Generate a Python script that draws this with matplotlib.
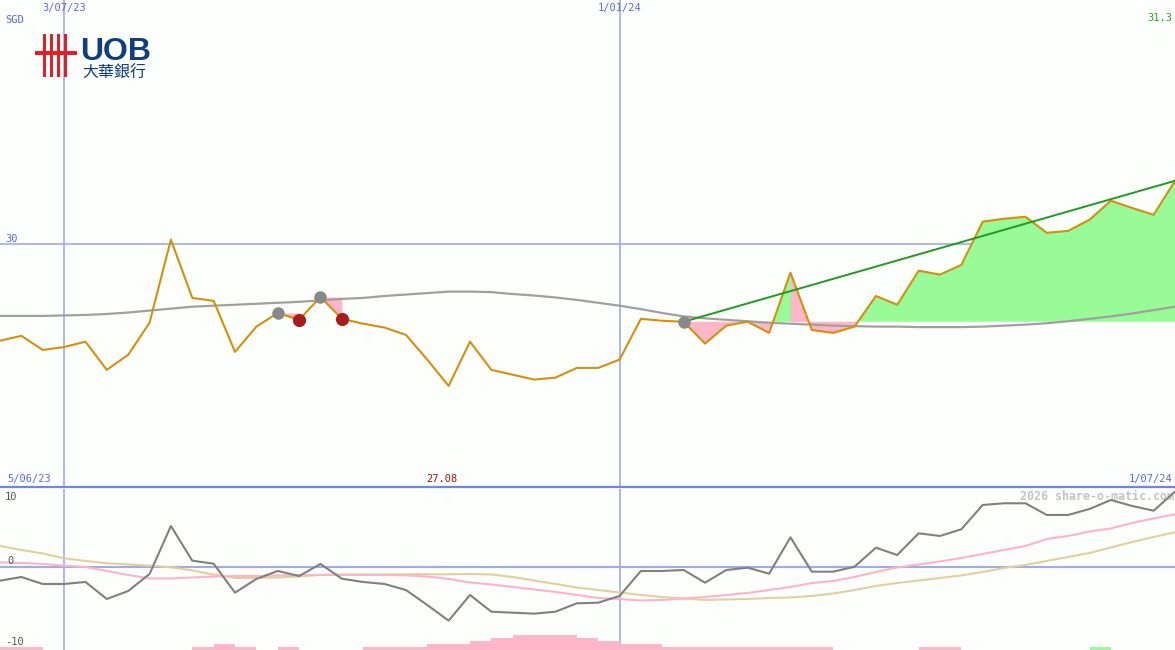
import numpy as np
import matplotlib
matplotlib.use("Agg")
import matplotlib.pyplot as plt
from matplotlib.lines import Line2D
from matplotlib.patches import Rectangle

# weekly closes 5/06/23 .. 1/07/24 (SGD)
price = [28.01, 28.11, 27.82, 27.88, 27.99, 27.41, 27.72, 28.38, 30.09, 28.89,
         28.83, 27.78, 28.30, 28.58, 28.44, 28.91, 28.46, 28.36, 28.28, 28.13,
         27.62, 27.08, 27.99, 27.41, 27.31, 27.21, 27.25, 27.45, 27.45, 27.62,
         28.46, 28.42, 28.40, 27.95, 28.32, 28.40, 28.17, 29.41, 28.23, 28.17,
         28.30, 28.93, 28.75, 29.45, 29.37, 29.57, 30.46, 30.52, 30.56, 30.23,
         30.27, 30.50, 30.89, 30.74, 30.60, 31.30]
ma_long = [28.52, 28.52, 28.52, 28.53, 28.54, 28.56, 28.59, 28.63, 28.67, 28.71,
           28.73, 28.75, 28.77, 28.79, 28.81, 28.84, 28.87, 28.89, 28.93, 28.96,
           28.99, 29.02, 29.02, 29.01, 28.97, 28.94, 28.90, 28.85, 28.79, 28.73,
           28.66, 28.58, 28.51, 28.47, 28.44, 28.41, 28.38, 28.36, 28.34, 28.32,
           28.31, 28.30, 28.30, 28.29, 28.29, 28.29, 28.30, 28.32, 28.34, 28.37,
           28.41, 28.46, 28.51, 28.57, 28.64, 28.71]

# lower panel (%)
osc = [-1.96, -1.43, -2.43, -2.43, -2.14, -4.57, -3.43, -1.0, 5.86, 0.9,
       0.47, -3.67, -1.71, -0.57, -1.29, 0.43, -1.67, -2.14, -2.43, -3.29,
       -5.43, -7.67, -4.0, -6.39, -6.53, -6.67, -6.39, -5.19, -5.1, -4.14,
       -0.57, -0.57, -0.43, -2.24, -0.43, -0.1, -0.96, 4.24, -0.67, -0.67,
       0.04, 2.76, 1.71, 4.81, 4.43, 5.39, 8.86, 9.1, 9.1, 7.43,
       7.43, 8.29, 9.57, 8.71, 8.04, 10.76]
osc_fast = [0.67, 0.57, 0.43, 0.19, 0.0, -0.57, -1.14, -1.64, -1.64, -1.5,
            -1.36, -1.29, -1.29, -1.21, -1.14, -1.14, -1.14, -1.14, -1.14, -1.21,
            -1.36, -1.71, -2.21, -2.5, -2.86, -3.21, -3.57, -4.0, -4.43, -4.57,
            -4.79, -4.71, -4.5, -4.29, -4.0, -3.71, -3.29, -2.86, -2.29, -2.0,
            -1.43, -0.71, -0.07, 0.36, 0.79, 1.29, 1.86, 2.43, 3.0, 4.0,
            4.43, 5.07, 5.5, 6.29, 6.93, 7.53]
osc_slow = [3.0, 2.43, 1.93, 1.24, 0.86, 0.53, 0.36, 0.19, -0.04, -0.5,
            -1.07, -1.57, -1.57, -1.5, -1.36, -1.14, -1.07, -1.07, -1.07, -1.04,
            -1.04, -1.04, -1.0, -1.07, -1.43, -1.93, -2.43, -2.93, -3.29, -3.64,
            -4.0, -4.29, -4.5, -4.71, -4.64, -4.57, -4.43, -4.36, -4.14, -3.79,
            -3.29, -2.71, -2.29, -1.93, -1.57, -1.21, -0.71, -0.14, 0.29, 0.86,
            1.43, 2.0, 2.79, 3.57, 4.29, 4.96]
vol = [1, 1, 0, 0, 0, 0, 0, 0, 0, 1, 2, 1, 0, 1, 0, 0, 0, 1, 1, 1,
       2, 2, 3, 4, 5, 5, 5, 4, 3, 2, 2, 1, 1, 1, 1, 1, 1, 1, 1, 0,
       0, 0, 0, 1, 1, 0, 0, 0, 0, 0, 0, 1, 0, 0, 0]
vol_up = [51]

buy_weeks = [13, 15, 32]
sell_weeks = [14, 16]
loss_weeks = [37]
grid_weeks = [3, 29]
grid_labels = ["3/07/23", "1/01/24"]
first_label, last_label = "5/06/23", "1/07/24"

weeks = np.arange(len(price))
price = np.array(price)

bg = "#fdfffd"
blue = "#5a66ea"
grid_c = "#9ea9f2"
pink = "#ffb6c8"
green = "#98fb98"
W, H = 1175, 650

fig = plt.figure(figsize=(W / 100, H / 100), dpi=100, facecolor=bg)
ax = fig.add_axes([0, 163 / H, 1, 487 / H])
ax2 = fig.add_axes([0, 0, 1, 161 / H])
for a in (ax, ax2):
    a.axis("off")
    a.set_xlim(0, len(price) - 1)
ax.set_ylim(25.0, 35.02)
ax2.set_ylim(-11.86, 11.14)

mono = "DejaVu Sans Mono"

# grid
ax.axhline(30, color=grid_c, lw=1.2, zorder=1)
for w in grid_weeks:
    ax.axvline(w, color=grid_c, lw=1.2, zorder=1)
    ax2.axvline(w, color=grid_c, lw=1.2, zorder=1)

# trade fills
for b, s in zip(buy_weeks[:2], sell_weeks):
    ax.fill_between(weeks[b:s + 1], price[b:s + 1], price[b], color=pink, lw=0, zorder=2)
b = buy_weeks[-1]
base = price[b]
ax.fill_between(weeks[b:], price[b:], base, where=price[b:] >= base, interpolate=True,
                color=green, lw=0, zorder=2)
ax.fill_between(weeks[b:], price[b:], base, where=price[b:] < base, interpolate=True,
                color=pink, lw=0, zorder=2)
for k in loss_weeks:
    ax.fill_between(weeks[k:k + 2], price[k:k + 2], base, color=pink, lw=0, zorder=2)

ax.plot(weeks, ma_long, color="#a0a0a0", lw=1.6, zorder=3)
ax.plot(weeks, price, color="#d4900c", lw=1.5, zorder=4)
ax.plot([weeks[b], weeks[-1]], [price[b], price[-1]], color="#229922", lw=1.4, zorder=5)
ax.plot(weeks[buy_weeks], price[buy_weeks], "o", color="#888888", ms=9, mec="none", zorder=6)
ax.plot(weeks[sell_weeks], price[sell_weeks], "o", color="#a81c1c", ms=9.5, mec="none", zorder=6)

# labels on price panel
for w, lab in zip(grid_weeks, grid_labels):
    ax.text(w, 1 - 8 / 487, lab, transform=ax.get_xaxis_transform(), ha="center", va="center",
            color=blue, fontsize=7.5, family=mono)
ax.text(5 / W, 1 - 20 / 487, "SGD", transform=ax.transAxes, ha="left", va="center",
        color=blue, fontsize=7.5, family=mono)
ax.text(5 / W, 30, "30", transform=ax.get_yaxis_transform(), ha="left", va="bottom",
        color=blue, fontsize=7.5, family=mono)
ax.text(1 - 3 / W, 1 - 18 / 487, f"{price.max():.1f}", transform=ax.transAxes, ha="right",
        va="center", color="#22aa22", fontsize=7.5, family=mono)
imin = int(price.argmin())
ax.text(imin - 0.3, 8 / 487, f"{price.min():.2f}", transform=ax.get_xaxis_transform(),
        ha="center", va="center", color="#a01414", fontsize=7.5, family=mono)
ax.text(7 / W, 8 / 487, first_label, transform=ax.transAxes, ha="left", va="center",
        color=blue, fontsize=7.5, family=mono)
ax.text(1 - 3 / W, 8 / 487, last_label, transform=ax.transAxes, ha="right", va="center",
        color=blue, fontsize=7.5, family=mono)

# lower panel
ax2.axhline(0, color="#a0aaf0", lw=1.5, zorder=1)
ax2.plot(weeks, osc_slow, color="#e3cf9c", lw=1.5, zorder=2)
ax2.plot(weeks, osc_fast, color="#ffb3c8", lw=1.5, zorder=3)
ax2.plot(weeks, osc, color="#808080", lw=1.5, zorder=4)
axv = ax2.twinx()
axv.axis("off")
axv.set_ylim(0, 161 / 3)
axv.set_xlim(0, len(price) - 1)
vcol = [green if i in vol_up else pink for i in range(len(vol))]
axv.bar(weeks[:-1], vol, width=1, align="edge", color=vcol, lw=0)

tr = ax2.get_yaxis_transform()
ax2.text(5 / W, 10, "10", transform=tr, ha="left", va="center", color="#555555", fontsize=7.5, family=mono)
ax2.text(7 / W, 0.2, "0", transform=tr, ha="left", va="bottom", color="#555555", fontsize=7.5, family=mono)
ax2.text(5 / W, -10, "-10", transform=tr, ha="left", va="top", color="#555555", fontsize=7.5, family=mono)
ax2.text(1 - 1 / W, 10, "2026 share-o-matic.com", transform=tr, ha="right", va="center",
         color="#c4c4c4", fontsize=8.4, family=mono, fontweight="bold")

# separator
fig.add_artist(Line2D([0, 1], [1 - 487 / H] * 2, color="#7282ee", lw=1.6))

# UOB logo
def fx(x):
    return x / W

def fy(y):
    return 1 - y / H

red = "#e41e26"
for x0 in (43, 50, 57, 64):
    fig.add_artist(Rectangle((fx(x0), fy(77)), 3 / W, 43 / H, color=red, lw=0))
fig.add_artist(Rectangle((fx(35), fy(55)), 42 / W, 4 / H, color=red, lw=0))
fig.text(fx(80), fy(60), "UOB", ha="left", va="baseline", color="#123d7e", fontsize=23,
         family="Liberation Sans", fontweight="bold")
fig.text(fx(82), fy(78), "大華銀行", ha="left", va="baseline", color="#123d7e", fontsize=11.5,
         family=["Noto Sans CJK TC", "DejaVu Sans"])

fig.savefig("out.png", dpi=100, facecolor=bg)
